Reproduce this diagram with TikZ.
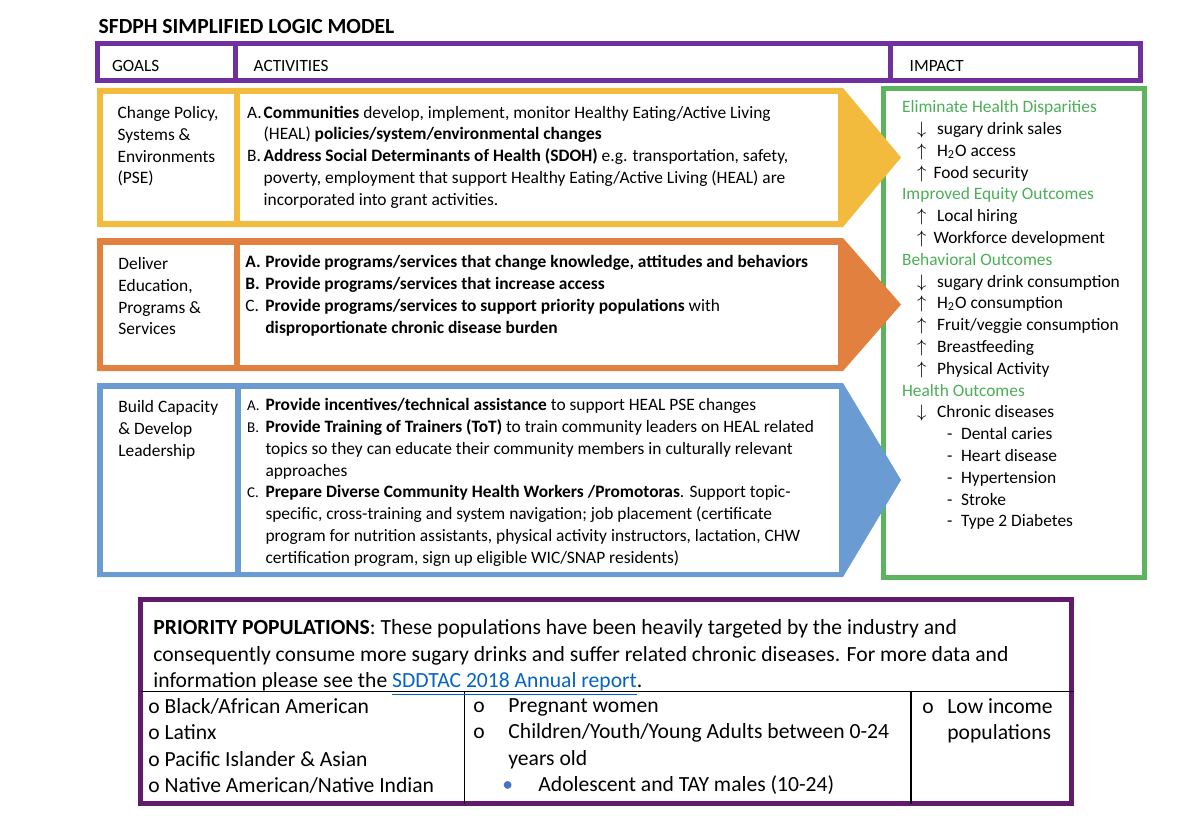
\documentclass[tikz,border=0pt]{standalone}
\usepackage{fontspec}
\setmainfont{Carlito}
\usetikzlibrary{positioning}
\definecolor{hdrpurple}{HTML}{7030A0}
\definecolor{poppurple}{HTML}{611A6C}
\definecolor{pseyel}{HTML}{F2BB3E}
\definecolor{eduorg}{HTML}{E2813F}
\definecolor{capblue}{HTML}{6A9BD3}
\definecolor{impgrn}{HTML}{5CB45F}
\definecolor{impgrntxt}{HTML}{4CAE57}
\definecolor{linkblue}{HTML}{0563C1}
\definecolor{dotblue}{HTML}{4472C4}
\newcommand{\itemlab}[2][8.3pt]{\makebox[#1][l]{#2}}
\newcommand{\incr}{\makebox[10pt][l]{$\uparrow$}}
\newcommand{\decr}{\makebox[10pt][l]{$\downarrow$}}
\newcommand{\incrtight}{\makebox[8.2pt][l]{$\uparrow$}}
\newcommand{\diseaseitem}{\hspace*{22.5pt}\makebox[7pt][l]{-}}
\tikzset{
  hdr/.style={draw=hdrpurple, line width=2.5pt},
  lbl/.style={anchor=base west, inner sep=0pt, font=\fontsize{8.6}{10.9}\selectfont},
  txt/.style={anchor=north west, inner sep=0pt, align=left,
              font=\fontsize{8.7}{10.9}\selectfont, execute at begin node=\strut},
  poptxt/.style={txt, font=\fontsize{10.8}{13.25}\selectfont},
  popline/.style={draw=black, line width=0.75pt},
}

\begin{document}
\begin{tikzpicture}[x=0.5pt, y=-0.5pt]
    \useasboundingbox (0,0) rectangle (1200,840);
    \node[anchor=base west, inner sep=0pt, font=\fontsize{10.8}{13}\selectfont\bfseries] (title) at (98.3,33.3) {SFDPH SIMPLIFIED LOGIC MODEL};
    % header row
    \draw[hdr] (97.5,44) rectangle (235.5,81);
    \draw[hdr] (235.5,44) rectangle (890,81);
    \draw[hdr] (890,44) rectangle (1140,81);
    \node[lbl] (hgoals) at (111.7,71.5) {GOALS};
    \node[lbl] (hacts) at (253.3,71.5) {ACTIVITIES};
    \node[lbl] (himpact) at (909.3,71.5) {IMPACT};
    % impact frame, arrows go over it
    \draw[impgrn, line width=2.5pt] (883,89) rectangle (1144.5,577.5);
    \fill[pseyel] (97,88) -- (843,88) -- (901,157.5) -- (843,227) -- (97,227) -- cycle;
    \fill[white] (103,94) rectangle (234,221); \fill[white] (240,94) rectangle (838,221);
    \fill[eduorg] (97,238) -- (843,238) -- (901,304.5) -- (843,371) -- (97,371) -- cycle;
    \fill[white] (103,245) rectangle (234,365); \fill[white] (240,245) rectangle (838,365);
    \fill[capblue] (97,383) -- (843,383) -- (901,480) -- (843,577) -- (97,577) -- cycle;
    \fill[white] (103,389) rectangle (235,572); \fill[white] (241,389) rectangle (839,572);
    % goals
    \node[txt] (gpse) at (117.3,106) {Change Policy,\\Systems \&\\Environments\\(PSE)};
    \node[txt] (gedu) at (118,257) {Deliver\\Education,\\Programs \&\\Services};
    \node[txt] (gcap) at (118,400) {Build Capacity\\\& Develop\\Leadership};
    % activities
    \node[txt] (apse) at (246.7,105.5) {\itemlab{A.}\textbf{Communities} develop, implement, monitor Healthy Eating/Active Living\\
      \hspace*{8.3pt}(HEAL) \textbf{policies/system/environmental changes}\\
      \itemlab{B.}\textbf{Address Social Determinants of Health (SDOH)} e.g. transportation, safety,\\
      \hspace*{8.3pt}poverty, employment that support Healthy Eating/Active Living (HEAL) are\\
      \hspace*{8.3pt}incorporated into grant activities.};
    \node[txt] (aedu) at (245,255) {\itemlab[10pt]{\textbf{A.}}\textbf{Provide programs/services that change knowledge, attitudes and behaviors}\\
      \itemlab[10pt]{\textbf{B.}}\textbf{Provide programs/services that increase access}\\
      \itemlab[10pt]{C.}\textbf{Provide programs/services to support priority populations} with\\
      \hspace*{10pt}\textbf{disproportionate chronic disease burden}};
    \node[txt] (acap) at (246.7,398) {\itemlab[9.2pt]{\fontsize{7.5}{9}\selectfont A.}\textbf{Provide incentives/technical assistance} to support HEAL PSE changes\\
      \itemlab[9.2pt]{\fontsize{7.5}{9}\selectfont B.}\textbf{Provide Training of Trainers (ToT)} to train community leaders on HEAL related\\
      \hspace*{9.2pt}topics so they can educate their community members in culturally relevant\\
      \hspace*{9.2pt}approaches\\
      \itemlab[9.2pt]{\fontsize{7.5}{9}\selectfont C.}\textbf{Prepare Diverse Community Health Workers /Promotoras}. Support topic-\\
      \hspace*{9.2pt}specific, cross-training and system navigation; job placement (certificate\\
      \hspace*{9.2pt}program for nutrition assistants, physical activity instructors, lactation, CHW\\
      \hspace*{9.2pt}certification program, sign up eligible WIC/SNAP residents)};
    % impact
    \node[txt] (impact) at (901.7,100.3) {\textcolor{impgrntxt}{Eliminate Health Disparities}\\
      \hspace*{7.5pt}\decr sugary drink sales\\
      \hspace*{7.5pt}\incr H\textsubscript{2}O access\\
      \hspace*{7.5pt}\incrtight Food security\\
      \textcolor{impgrntxt}{Improved Equity Outcomes}\\
      \hspace*{7.5pt}\incr Local hiring\\
      \hspace*{7.5pt}\incrtight Workforce development\\
      \textcolor{impgrntxt}{Behavioral Outcomes}\\
      \hspace*{7.5pt}\decr sugary drink consumption\\
      \hspace*{7.5pt}\incr H\textsubscript{2}O consumption\\
      \hspace*{7.5pt}\incr Fruit/veggie consumption\\
      \hspace*{7.5pt}\incr Breastfeeding\\
      \hspace*{7.5pt}\incr Physical Activity\\
      \textcolor{impgrntxt}{Health Outcomes}\\
      \hspace*{7.5pt}\decr Chronic diseases\\
      \diseaseitem Dental caries\\
      \diseaseitem Heart disease\\
      \diseaseitem Hypertension\\
      \diseaseitem Stroke\\
      \diseaseitem Type 2 Diabetes};
    % priority populations
    \draw[poppurple, line width=2.5pt] (140.5,599.5) rectangle (1071.5,803.5);
    \draw[popline] (140.5,691.5) -- (1074,691.5);
    \draw[popline] (464.3,691.5) -- (464.3,803.5);
    \draw[popline] (911,691.5) -- (911,803.5);
    \node[poptxt] (popintro) at (153,619.5) {\textbf{PRIORITY POPULATIONS}: These populations have been heavily targeted by the industry and\\
      consequently consume more sugary drinks and suffer related chronic diseases. For more data and\\
      information please see the \textcolor{linkblue}{\underline{SDDTAC 2018 Annual report}}.};
    \node[poptxt] (popone) at (148,698) {o Black/African American\\o Latinx\\o Pacific Islander \& Asian\\o Native American/Native Indian};
    \node[poptxt] (poptwo) at (473,698) {\itemlab[17.5pt]{o}Pregnant women\\
      \itemlab[17.5pt]{o}Children/Youth/Young Adults between 0-24\\
      \hspace*{17.5pt}years old\\
      \hspace*{14.5pt}\itemlab[18pt]{\textcolor{dotblue}{\textbullet}}Adolescent and TAY males (10-24)};
    \node[poptxt] (popthree) at (922,698) {\itemlab[12.5pt]{o}Low income\\\hspace*{12.5pt}populations};
\end{tikzpicture}
\end{document}
